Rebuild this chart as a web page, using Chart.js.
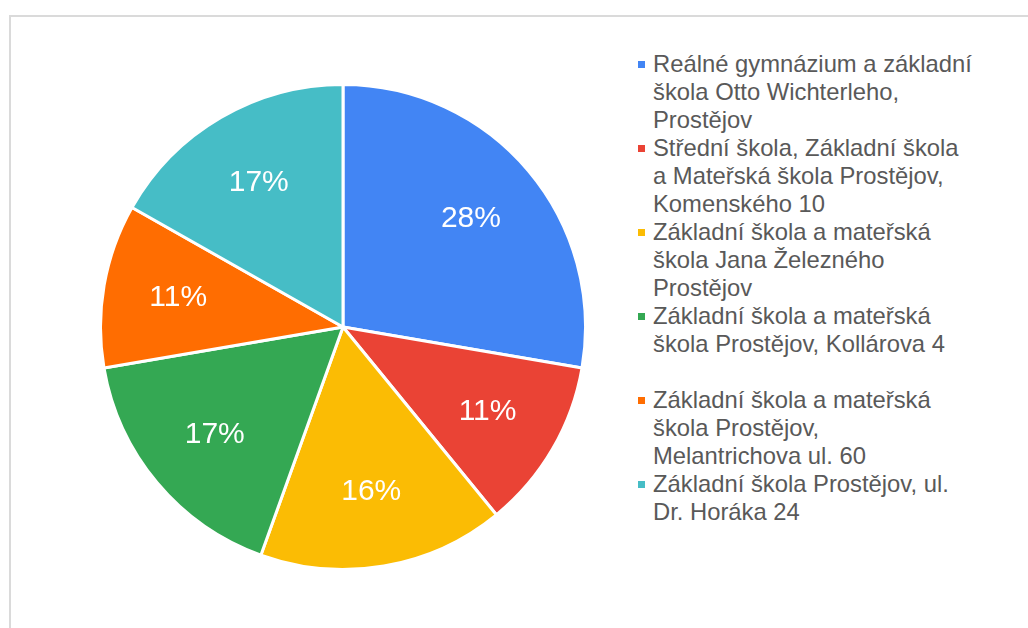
<!DOCTYPE html>
<html>
<head>
<meta charset="utf-8">
<script src="https://cdn.jsdelivr.net/npm/chart.js@4/dist/chart.umd.min.js"></script>
<style>
  body { margin: 0; background: #fff; }
  #page { position: relative; width: 1028px; height: 628px; overflow: hidden; background: #fff; }
  #frame { position: absolute; left: 9px; top: 15px; width: 1100px; height: 700px; border: 2px solid #dadada; }
  #pieBox { position: absolute; left: 99px; top: 83px; width: 488px; height: 488px; }
  #legend { position: absolute; left: 638px; top: 50px; font-family: "Liberation Sans", Arial, sans-serif; font-size: 23.8px; line-height: 28px; color: #595959; }
  .item { position: relative; height: 84px; padding-left: 15px; white-space: nowrap; }
  .box { position: absolute; left: 0; top: 11px; width: 7px; height: 7px; }
</style>
</head>
<body>
<div id="page">
  <div id="frame"></div>
  <div id="pieBox"><canvas id="myChart"></canvas></div>
  <div id="legend"></div>
</div>
<script>
// school names, split in lines like in the legend
const schools = [
    ['Reálné gymnázium a základní', 'škola Otto Wichterleho,', 'Prostějov'],
    ['Střední škola, Základní škola', 'a Mateřská škola Prostějov,', 'Komenského 10'],
    ['Základní škola a mateřská', 'škola Jana Železného', 'Prostějov'],
    ['Základní škola a mateřská', 'škola Prostějov, Kollárova 4'],
    ['Základní škola a mateřská', 'škola Prostějov,', 'Melantrichova ul. 60'],
    ['Základní škola Prostějov, ul.', 'Dr. Horáka 24']
];
const shares = [27.7, 11.4, 16.4, 16.8, 10.9, 16.8];
const colors = ['#4285F4', '#EA4335', '#FBBC04', '#34A853', '#FF6D01', '#46BDC6'];

// draws the percent text inside every slice
const sliceLabels = {
    id: 'sliceLabels',
    afterDatasetsDraw(chart) {
        const ctx = chart.ctx;
        const data = chart.data.datasets[0].data;
        const total = data.reduce((a, b) => a + b, 0);
        ctx.save();
        ctx.fillStyle = '#ffffff';
        ctx.font = '30px "Liberation Sans", Arial, sans-serif';
        ctx.textAlign = 'center';
        ctx.textBaseline = 'middle';
        chart.getDatasetMeta(0).data.forEach((arc, i) => {
            const p = arc.getProps(['x', 'y', 'startAngle', 'endAngle', 'outerRadius']);
            const mid = (p.startAngle + p.endAngle) / 2;
            const r = p.outerRadius * 0.69;
            const pct = Math.round(data[i] / total * 100);
            ctx.fillText(pct + '%', p.x + Math.cos(mid) * r, p.y + Math.sin(mid) * r);
        });
        ctx.restore();
    }
};

// html legend, so the long names can go on several lines
function buildLegend(chart) {
    const legend = document.getElementById('legend');
    legend.innerHTML = '';
    chart.data.labels.forEach((lines, i) => {
        const item = document.createElement('div');
        item.className = 'item';
        const box = document.createElement('span');
        box.className = 'box';
        box.style.background = chart.data.datasets[0].backgroundColor[i];
        item.appendChild(box);
        lines.forEach((line, j) => {
            if (j > 0) item.appendChild(document.createElement('br'));
            item.appendChild(document.createTextNode(line));
        });
        legend.appendChild(item);
    });
}

document.addEventListener('DOMContentLoaded', function() {
    const ctx = document.getElementById('myChart').getContext('2d');
    const myChart = new Chart(ctx, {
        type: 'pie',
        data: {
            labels: schools,
            datasets: [{
                data: shares,
                backgroundColor: colors,
                borderColor: '#ffffff',
                borderWidth: 3
            }]
        },
        options: {
            responsive: true,
            maintainAspectRatio: false,
            animation: false,
            layout: { padding: 0 },
            plugins: {
                legend: { display: false },
                tooltip: { enabled: false }
            }
        },
        plugins: [sliceLabels]
    });
    buildLegend(myChart);
});
</script>
</body>
</html>
